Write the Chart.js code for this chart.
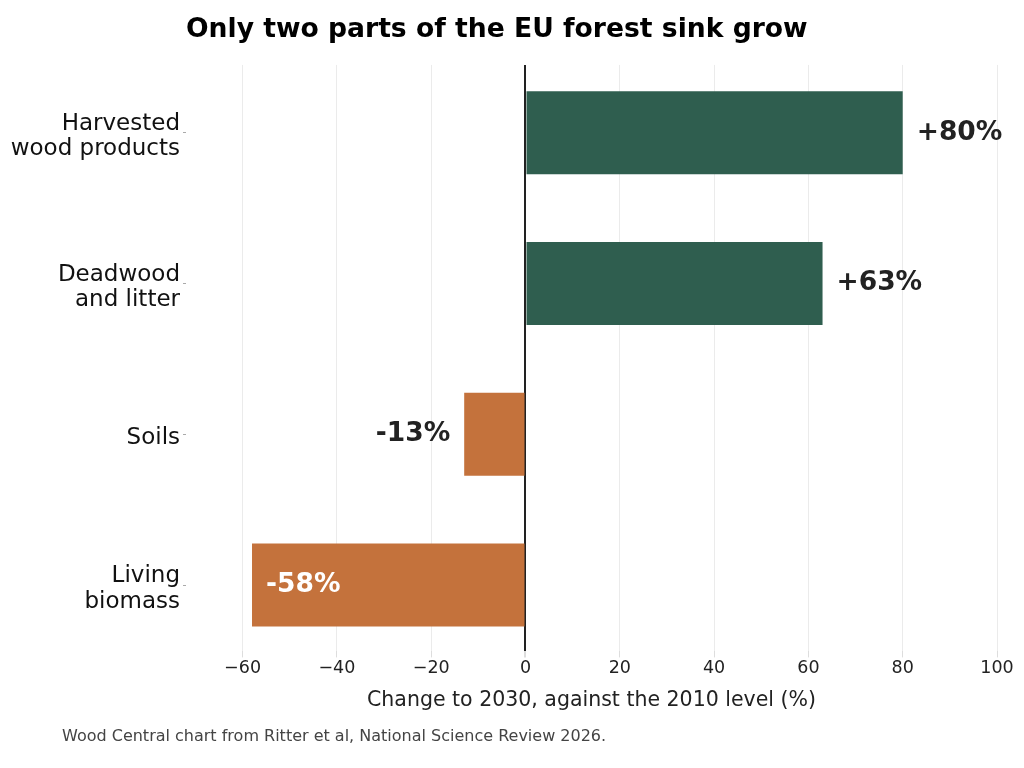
<!DOCTYPE html>
<html lang="en">
<head>
  <meta charset="UTF-8">
  <title>EU forest sink</title>
  <script src="https://cdn.jsdelivr.net/npm/chart.js"></script>
  <style>
    body { margin: 0; background: #fff; }
    #wrap { position: relative; width: 1024px; height: 768px; }
    #note {
      position: absolute; left: 62px; top: 726px;
      font: 16px "DejaVu Sans", sans-serif; color: #444;
    }
  </style>
  <script>
    // data
    const categories = [
      ['Harvested', 'wood products'],
      ['Deadwood', 'and litter'],
      ['Soils'],
      ['Living', 'biomass']
    ]
    const changes = [80, 63, -13, -58]
    const barColors = ['#2f5e4f', '#2f5e4f', '#c4723c', '#c4723c']
    const xTicks = [-60, -40, -20, 0, 20, 40, 60, 80, 100]

    const valueLabels = {
      id: 'valueLabels',
      afterDatasetsDraw(chart) {
        const ctx = chart.ctx
        const meta = chart.getDatasetMeta(0)
        ctx.save()
        ctx.font = 'bold 26.5px "DejaVu Sans"'
        ctx.textBaseline = 'middle'
        meta.data.forEach((bar, i) => {
          const v = changes[i]
          const txt = (v > 0 ? '+' : '') + v + '%'
          if (v >= 0) {
            ctx.textAlign = 'left'
            ctx.fillStyle = '#222'
            ctx.fillText(txt, bar.x + 14, bar.y)
          } else if (v < -30) {
            ctx.textAlign = 'left'
            ctx.fillStyle = '#fff'
            ctx.fillText(txt, bar.x + 14, bar.y)
          } else {
            ctx.textAlign = 'right'
            ctx.fillStyle = '#222'
            ctx.fillText(txt, bar.x - 14, bar.y)
          }
        })
        ctx.restore()
      }
    }

    window.onload = () => {
      Chart.defaults.font.family = '"DejaVu Sans", sans-serif'
      Chart.defaults.color = '#222'

      new Chart(document.getElementById('viz'), {
        type: 'bar',
        data: {
          datasets: [{
            data: changes.map((v, i) => ({ x: v, y: i })),
            backgroundColor: barColors,
            borderWidth: 0,
            categoryPercentage: 1,
            barPercentage: 0.55
          }]
        },
        options: {
          indexAxis: 'y',
          responsive: true,
          maintainAspectRatio: false,
          animation: false,
          layout: { padding: { left: 0, right: 27, top: 0, bottom: 51 } },
          plugins: {
            legend: { display: false },
            tooltip: { enabled: false },
            title: {
              display: true,
              text: 'Only two parts of the EU forest sink grow',
              align: 'start',
              fullSize: false,
              color: '#000',
              font: { size: 26.6, weight: 'bold' },
              padding: { top: 14, bottom: 19 }
            }
          },
          scales: {
            x: {
              type: 'linear',
              min: -72,
              max: 100,
              afterBuildTicks: (s) => { s.ticks = xTicks.map(v => ({ value: v })) },
              ticks: {
                font: { size: 17.5 },
                padding: 1,
                callback: (v) => String(v).replace('-', '\u2212')
              },
              grid: {
                color: (c) => c.tick && c.tick.value === 0 ? '#222' : '#ebebeb',
                lineWidth: (c) => c.tick && c.tick.value === 0 ? 2 : 1,
                tickColor: '#dddddd',
                tickLength: 6
              },
              border: { display: false },
              title: {
                display: true,
                text: 'Change to 2030, against the 2010 level (%)',
                font: { size: 20.5 },
                padding: { top: 8, bottom: 4 }
              }
            },
            y: {
              type: 'linear',
              reverse: true,
              offset: false,
              min: -0.45,
              max: 3.44,
              afterBuildTicks: (s) => { s.ticks = categories.map((c, i) => ({ value: i })) },
              afterFit: (s) => { s.width = 186 },
              ticks: {
                color: '#111',
                font: { size: 23, lineHeight: 1.1 },
                padding: 3,
                labelOffset: 4,
                callback: (v) => categories[v]
              },
              grid: {
                offset: false,
                drawOnChartArea: false,
                color: '#aaaaaa',
                tickLength: 3
              },
              border: { display: false }
            }
          }
        },
        plugins: [valueLabels]
      })
    }
  </script>
</head>
<body>
  <div id="wrap">
    <canvas id="viz"></canvas>
    <div id="note">Wood Central chart from Ritter et al, National Science Review 2026.</div>
  </div>
</body>
</html>
